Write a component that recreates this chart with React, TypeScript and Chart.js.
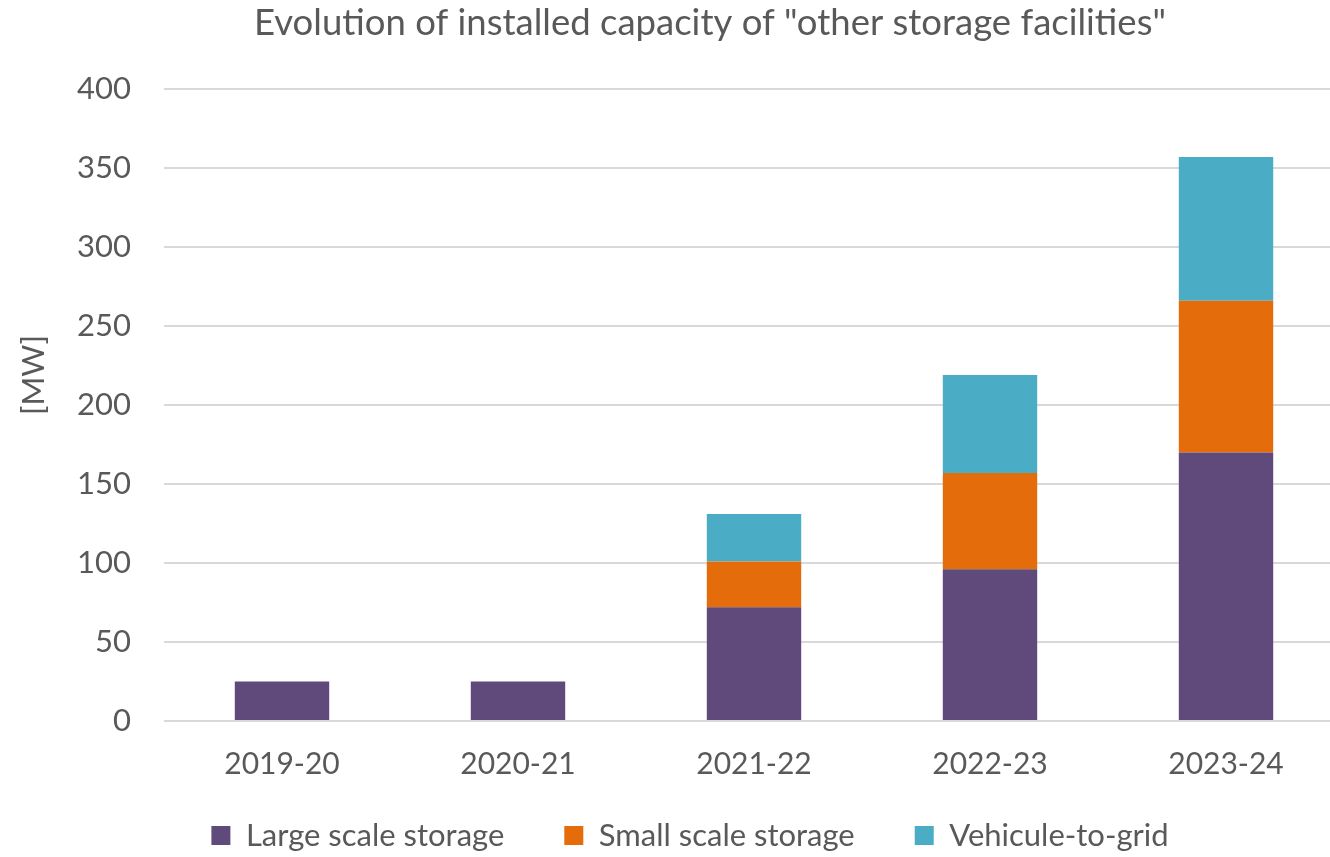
import React, { useEffect, useRef } from "react";
import { Chart, registerables } from "chart.js";

Chart.register(...registerables);

const categories = ["2019-20", "2020-21", "2021-22", "2022-23", "2023-24"];
const largeScale = [25, 25, 72, 96, 170];
const smallScale = [0, 0, 29, 61, 96];
const vehicleToGrid = [0, 0, 30, 62, 91];
const yTicks = [0, 50, 100, 150, 200, 250, 300, 350, 400];
const chartTitle = 'Evolution of installed capacity of "other storage facilities"';
const yAxisTitle = "[MW]";

const FONT = "Lato, 'Open Sans', sans-serif";
const TEXT = "#595959";

// Draws the title and the rotated y-axis title.
const textPlugin = {
  id: "texts",
  afterLayout(chart: any) {
    // let x tick labels extend below the axis box without being clipped
    const x = chart.scales.x;
    x.bottom = x.top + 70;
    x.height = 70;
  },
  afterDraw(chart: any) {
    const ctx = chart.ctx;
    ctx.save();
    ctx.font = `36.5px ${FONT}`;
    ctx.fillStyle = TEXT;
    ctx.textAlign = "center";
    ctx.textBaseline = "alphabetic";
    ctx.fillText(chartTitle, 710, 35);
    ctx.restore();

    ctx.save();
    ctx.translate(34, 375);
    ctx.rotate(-Math.PI / 2);
    ctx.font = `31px ${FONT}`;
    ctx.fillStyle = TEXT;
    ctx.textAlign = "center";
    ctx.textBaseline = "middle";
    ctx.fillText(yAxisTitle, 0, 0);
    ctx.restore();
  },
};

export default function App() {
  const ref = useRef<HTMLCanvasElement | null>(null);
  useEffect(() => {
    if (!ref.current) return;
    const chart = new Chart(ref.current, {
      type: "bar",
      data: {
        labels: categories,
        datasets: [
          { label: "Large scale storage", data: largeScale, backgroundColor: "#604A7B" },
          { label: "Small scale storage", data: smallScale, backgroundColor: "#E46C0A" },
          { label: "Vehicule-to-grid", data: vehicleToGrid, backgroundColor: "#4BACC6" },
        ],
      },
      plugins: [textPlugin],
      options: {
        responsive: false,
        animation: false,
        devicePixelRatio: 1,
        layout: { padding: { left: 36, right: 6, top: 89, bottom: 0 } },
        datasets: { bar: { categoryPercentage: 1, barPercentage: 0.4, borderWidth: 0 } },
        plugins: {
          title: { display: false },
          legend: {
            position: "bottom",
            labels: {
              color: TEXT,
              font: { family: FONT, size: 31 },
              boxWidth: 19,
              boxHeight: 19,
              padding: 60,
            },
          },
          tooltip: { enabled: false },
        },
        scales: {
          x: {
            stacked: true,
            grid: { display: false, drawTicks: false },
            border: { display: false },
            ticks: { color: TEXT, font: { family: FONT, size: 30 }, padding: 25 },
            afterFit(scale: any) {
              scale.height = 39;
            },
          },
          y: {
            stacked: true,
            min: 0,
            max: 400,
            afterBuildTicks(scale: any) {
              scale.ticks = yTicks.map((v) => ({ value: v }));
            },
            grid: { color: "#D9D9D9", lineWidth: 2, drawTicks: false },
            border: { display: false },
            ticks: { color: TEXT, font: { family: FONT, size: 31 }, padding: 33 },
            afterFit(scale: any) {
              scale.width = 128;
            },
          },
        },
      },
    });
    return () => chart.destroy();
  }, []);
  return (
    <div
      style={{
        position: "fixed",
        left: 0,
        top: 0,
        width: 1330,
        height: 857,
        overflow: "hidden",
        background: "#fff",
      }}
    >
      <canvas ref={ref} width={1350} height={861} style={{ width: 1350, height: 861, display: "block" }} />
    </div>
  );
}
